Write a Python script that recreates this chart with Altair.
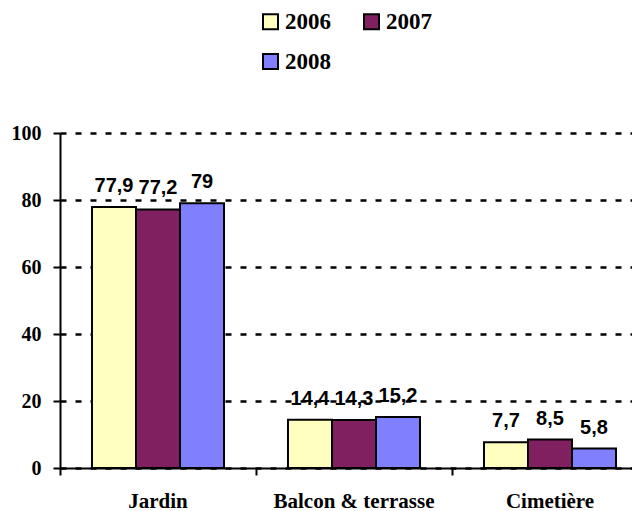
import altair as alt
import pandas as pd

categories = ["Jardin", "Balcon & terrasse", "Cimetière"]
years = ["2006", "2007", "2008"]
v2006 = [77.9, 14.4, 7.7]
v2007 = [77.2, 14.3, 8.5]
v2008 = [79, 15.2, 5.8]
colors = ["#FFFFC0", "#802060", "#8080FF"]
y_ticks = [0, 20, 40, 60, 80, 100]

rows = []
for yr, vals in zip(years, [v2006, v2007, v2008]):
    for c, v in zip(categories, vals):
        rows.append({"cat": c, "year": yr, "val": v,
                     "lab": (str(v) if v != int(v) else str(int(v))).replace(".", ",")})
df = pd.DataFrame(rows)

x = alt.X("cat:N", sort=categories, title=None,
          scale=alt.Scale(range=[0, 588], paddingInner=0, paddingOuter=0),
          axis=alt.Axis(bandPosition=0, labelAngle=0,
                        labelFont="Liberation Serif", labelFontWeight="bold",
                        labelFontSize=21, labelColor="black", labelPadding=15,
                        tickColor="black", tickWidth=2, tickSize=7,
                        domainColor="black", domainWidth=2, grid=False))
xo = alt.XOffset("year:N", sort=years,
                 scale=alt.Scale(paddingInner=0, paddingOuter=0.727))

base = alt.Chart(df).encode(x=x, xOffset=xo)

bars = base.mark_bar(stroke="black", strokeWidth=2).encode(
    y=alt.Y("val:Q", title=None,
            scale=alt.Scale(domain=[0, 100], nice=False),
            axis=alt.Axis(values=y_ticks, labelFont="Liberation Serif",
                          labelFontWeight="bold", labelFontSize=20,
                          labelColor="black", labelPadding=12,
                          tickColor="black", tickWidth=2, tickSize=7,
                          domainColor="black", domainWidth=2,
                          grid=True, gridColor="black", gridWidth=2.5,
                          gridDash=[6, 9])),
    color=alt.Color("year:N", sort=years, title=None,
                    scale=alt.Scale(domain=years, range=colors),
                    legend=alt.Legend(orient="none", legendX=199, legendY=-123,
                                      columns=2, direction="horizontal",
                                      symbolType="square",
                                      symbolSize=225, symbolStrokeColor="black",
                                      symbolStrokeWidth=2, symbolOpacity=1,
                                      labelFont="Liberation Serif",
                                      labelFontWeight="bold", labelFontSize=23,
                                      labelColor="black", columnPadding=29,
                                      rowPadding=16, labelOffset=3)),
)

labels = base.mark_text(font="Liberation Sans", fontWeight="bold", fontSize=20,
                        color="black", baseline="alphabetic", dy=-15).encode(
    y=alt.Y("val:Q"), text="lab:N")

chart = (bars + labels).properties(
    width=572, height=335,
    autosize=alt.AutoSizeParams(type="none"),
    padding={"left": 52, "top": 125, "right": 0, "bottom": 45},
).configure_view(stroke=None)

chart.save("out.html", embed_options={"renderer": "svg", "actions": False})
